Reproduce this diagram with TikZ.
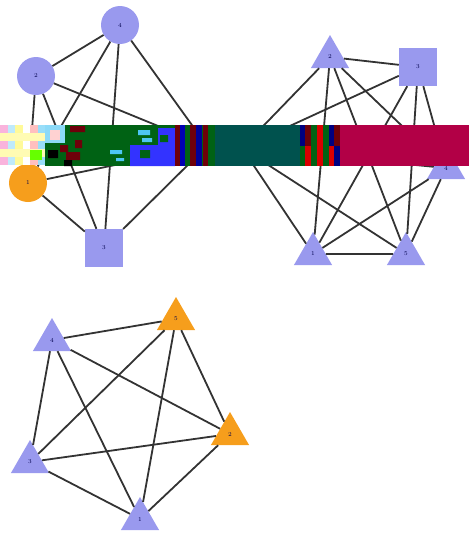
\documentclass[tikz,border=0pt]{standalone}
\usetikzlibrary{shapes.geometric}
\definecolor{vblue}{RGB}{153,153,238}
\definecolor{vorange}{RGB}{246,158,28}
\definecolor{bandgreen}{RGB}{0,98,20}
\definecolor{bandteal}{RGB}{0,82,78}
\definecolor{bandred}{RGB}{178,0,70}
\definecolor{darkred}{RGB}{110,0,10}
\begin{document}
\begin{tikzpicture}[x=1pt,y=-1pt,
    vtx/.style={fill=vblue,inner sep=0pt,text=blue!30!black,
      font=\fontsize{6}{6}\selectfont},
    ball/.style={vtx,circle,minimum size=38pt},
    box/.style={vtx,rectangle,minimum width=38pt,minimum height=38pt},
    tri/.style={vtx,regular polygon,regular polygon sides=3,minimum size=44pt},
    hot/.style={fill=vorange},
    link/.style={draw=black!80,line width=1.8pt}]
  \useasboundingbox (0,0) rectangle (469,533);

  % left component
  \node[ball]     (a4) at (120,25)  {4};
  \node[ball]     (a2) at (36,76)   {2};
  \node[ball,hot] (a1) at (28,183)  {1};
  \node[box]      (a3) at (104,248) {3};
  \node[ball]     (a5) at (207,146) {5};

  % right component
  \node[tri] (b2) at (330,57)  {2};
  \node[box] (b3) at (418,67)  {3};
  \node[tri] (b4) at (446,168) {4};
  \node[tri] (b1) at (313,254) {1};
  \node[tri] (b5) at (406,254) {5};
  \node[tri] (b6) at (242,148) {6};

  % lower component
  \node[tri]     (c4) at (52,340)  {4};
  \node[tri,hot] (c5) at (176,319) {5};
  \node[tri,hot] (c2) at (230,434) {2};
  \node[tri]     (c3) at (30,462)  {3};
  \node[tri]     (c1) at (140,519) {1};

  % every pair is joined
  \foreach \g/\n in {a/5,b/6,c/5}
    \foreach \i [evaluate=\i as \k using int(\i+1)] in {1,...,\the\numexpr\n-1}
      \foreach \j in {\k,...,\n}
        \draw[link] (\g\i) -- (\g\j);

  % the broken strip across the middle
  \fill[bandgreen] (45,125) rectangle (215,166);
  \fill[bandteal] (215,125) rectangle (300,166);
  \fill[bandred] (340,125) rectangle (469,166);
  \foreach \x/\c in {0/magenta!30,7.5/cyan!25,15/yellow!40,22.5/white,30/pink,37.5/cyan!40}
    \foreach \y/\d in {125/0,133/1,141/2,149/3,157/4}
      \fill[\ifodd\d yellow!30!white\else\c\fi] (\x,\y) rectangle +(7.5,8.2);
  \fill[green!60!yellow] (30,150) rectangle (42,160);
  \fill[cyan!45] (45,125) rectangle (65,143);
  \fill[pink!70] (50,130) rectangle (60,140);
  \fill[darkred] (70,126) rectangle (85,132) (60,145) rectangle (68,152)
    (66,152) rectangle (80,160) (75,140) rectangle (82,148);
  \fill[black] (48,150) rectangle (58,158) (64,160) rectangle (72,166);
  \fill[cyan!70] (110,150) rectangle (122,154) (116,158) rectangle (124,161)
    (138,130) rectangle (150,135) (142,138) rectangle (152,142);
  \fill[blue!80] (130,145) rectangle (175,166) (158,128) rectangle (175,145);
  \fill[bandgreen] (140,150) rectangle (150,158) (160,135) rectangle (168,142);
  \foreach \x/\c in {175/darkred,180/blue!70!black,185/bandgreen,190/darkred,
      196/blue!60!black,203/darkred,208/bandgreen}
    \fill[\c] (\x,125) rectangle (\x+6,166);
  \foreach \x/\c/\d in {300/blue!50!black/bandgreen,305/darkred/red!85!black,
      311/bandgreen/bandgreen,317/red!85!black/red!85!black,
      323/bandgreen/bandgreen,329/blue!50!black/red!85!black,334/darkred/blue!50!black}
    {\fill[\c] (\x,125) rectangle (\x+6,146);
     \fill[\d] (\x,146) rectangle (\x+6,166);}
\end{tikzpicture}
\end{document}
